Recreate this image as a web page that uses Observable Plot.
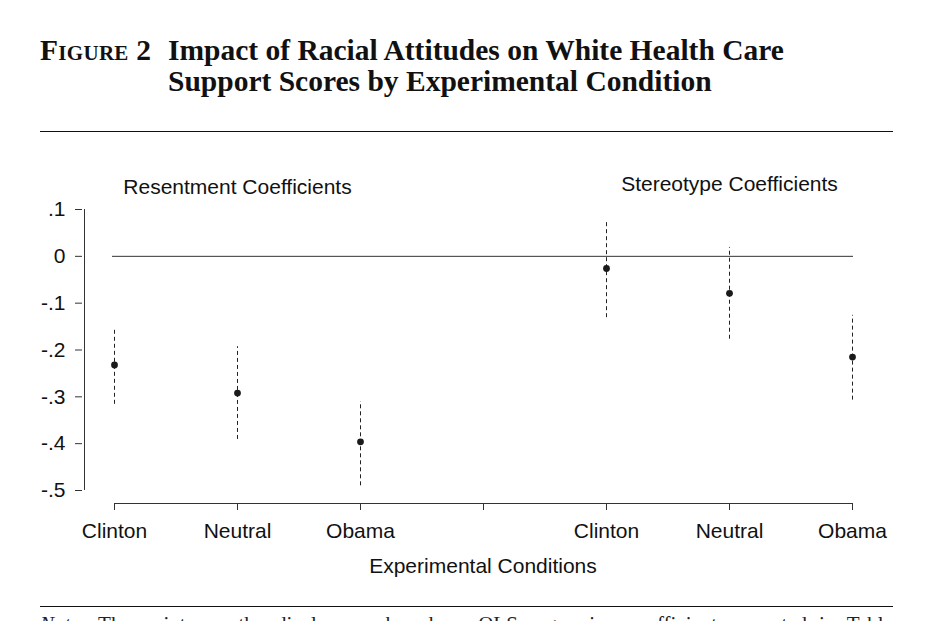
<!DOCTYPE html>
<html>
<head>
<meta charset="utf-8">
<script src="https://cdn.jsdelivr.net/npm/d3@7"></script>
<script src="https://cdn.jsdelivr.net/npm/@observablehq/plot@0.6"></script>
<style>
  html, body { margin: 0; padding: 0; background: #fff; overflow: hidden; }
  body { width: 936px; height: 621px; position: relative; }
  #title { position: absolute; left: 40px; top: 35px; display: flex;
    font-family: "Liberation Serif", "DejaVu Serif", serif; font-weight: bold;
    font-size: 29.5px; line-height: 31px; color: #111; }
  #title .fig { width: 128px; font-variant: small-caps; white-space: nowrap; letter-spacing: 0.3px; }
  .rule { position: absolute; left: 40px; width: 853px; height: 0; border-top: 1.5px solid #111; }
  #chart { position: absolute; left: 0; top: 140px; }
  #note { position: absolute; left: 40px; top: 611px; width: 853px; font-family: "Liberation Serif", serif;
    font-size: 21px; line-height: 26px; color: #222; }
  #note .l1 { text-align: justify; text-align-last: justify; white-space: normal; }
</style>
</head>
<body>
<div id="title"><div class="fig">Figure 2</div><div>Impact of Racial Attitudes on White Health Care<br>Support Scores by Experimental Condition</div></div>
<div class="rule" style="top:131px"></div>
<div id="chart"></div>
<div class="rule" style="top:606px"></div>
<div id="note"><div class="l1"><i>Note:</i> The points on the display are based on OLS regression coefficients reported in Table</div><div>1.</div></div>
<script>
// ---- data ----
const conditions = ["Clinton", "Neutral", "Obama"];
const groups = ["Resentment Coefficients", "Stereotype Coefficients"];
const resentEst = [-0.232, -0.292, -0.396];
const resentLo  = [-0.316, -0.391, -0.490];
const resentHi  = [-0.152, -0.193, -0.310];
const stereoEst = [-0.026, -0.079, -0.215];
const stereoLo  = [-0.131, -0.177, -0.307];
const stereoHi  = [0.076, 0.019, -0.126];
const yTicks = [0.1, 0, -0.1, -0.2, -0.3, -0.4, -0.5];
const yTickLabels = [".1", "0", "-.1", "-.2", "-.3", "-.4", "-.5"];
const xTitle = "Experimental Conditions";

// ---- build table ----
const slots = [
  ...conditions.map(c => "R|" + c),
  "gap",
  ...conditions.map(c => "S|" + c)
];
const rows = [
  ...conditions.map((c, i) => ({slot: "R|" + c, est: resentEst[i], lo: resentLo[i], hi: resentHi[i]})),
  ...conditions.map((c, i) => ({slot: "S|" + c, est: stereoEst[i], lo: stereoLo[i], hi: stereoHi[i]}))
];
const yMin = d3.min(yTicks), yMax = d3.max(yTicks);
const xFirst = slots[0], xLast = slots[slots.length - 1];

const ink = "#222";
const chart = Plot.plot({
  width: 936,
  height: 460,
  marginLeft: 112,
  marginRight: 83,
  marginTop: 69,
  marginBottom: 110,
  style: {fontFamily: "'Liberation Sans', Arial, Helvetica, sans-serif", fontSize: "21px", background: "#fff", color: "#111", overflow: "visible"},
  x: {type: "point", domain: slots, padding: 0},
  y: {domain: [yMin, yMax]},
  marks: [
    // y axis (offset left of the frame, R style)
    Plot.ruleX([xFirst], {x: d => d, y1: () => yMin, y2: () => yMax, dx: -30, stroke: "#333", strokeWidth: 1}),
    Plot.axisY({anchor: "left", ticks: yTicks, tickFormat: d => yTickLabels[yTicks.indexOf(d)], tickSize: 7, tickPadding: 10, dx: -30, stroke: "#333", fill: "#111", label: null}),
    // x axis (offset below the frame)
    Plot.ruleY([yMin], {y: d => d, x1: () => xFirst, x2: () => xLast, dy: 13, stroke: "#333", strokeWidth: 1}),
    Plot.axisX({anchor: "bottom", ticks: slots, tickFormat: d => d === "gap" ? "" : d.split("|")[1], tickSize: 7, tickPadding: 13, dy: 13, stroke: "#333", fill: "#111", label: null}),
    Plot.text([xTitle], {frameAnchor: "bottom", lineAnchor: "bottom", dy: 82, fill: "#111"}),
    // zero reference line
    Plot.ruleY([0], {stroke: "#333", strokeWidth: 1}),
    // error bars
    Plot.ruleX(rows, {x: "slot", y1: "lo", y2: "hi", stroke: ink, strokeWidth: 1, strokeDasharray: "4,3"}),
    // point estimates
    Plot.dot(rows, {x: "slot", y: "est", r: 3.4, fill: "#1a1a1a", stroke: "none"}),
    // panel labels
    Plot.text([groups[0]], {x: () => "R|Neutral", text: d => d, frameAnchor: "top", lineAnchor: "bottom", dy: -16, fill: "#111"}),
    Plot.text([groups[1]], {x: () => "S|Neutral", text: d => d, frameAnchor: "top", lineAnchor: "bottom", dy: -19, fill: "#111"})
  ]
});
document.getElementById("chart").appendChild(chart);
</script>
</body>
</html>
